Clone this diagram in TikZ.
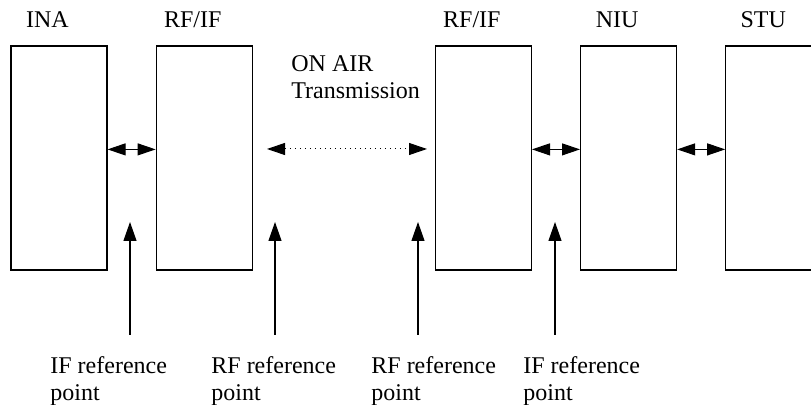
\documentclass[tikz,border=0pt]{standalone}
\usepackage{fontspec}
\setmainfont{Liberation Serif}
\usetikzlibrary{arrows.meta,positioning}

\tikzset{
  unit/.style={draw, line width=0.6pt, minimum width=48pt, minimum height=112pt, inner sep=0pt},
  unitlbl/.style={inner sep=0pt, font=\fontsize{12}{14}\selectfont},
  reflbl/.style={inner sep=0pt, align=left, font=\fontsize{12}{13.7}\selectfont},
  link/.style={line width=0.5pt, {Triangle[length=9pt,width=6pt]}-{Triangle[length=9pt,width=6pt]}},
  refarrow/.style={line width=0.6pt, -{Triangle[length=9.5pt,width=6.5pt]}}
}

\begin{document}
\begin{tikzpicture}[x=0.5pt, y=-0.5pt, node distance=24pt]
\useasboundingbox (0,0) rectangle (811,405);
\clip (0,0) rectangle (811,405);

% the five units, 1px = 0.5pt
\node[unit] (ina) at (59,158) {};
\node[unit, right=of ina] (rfa) {};
\node[unit, right=91pt of rfa] (rfb) {};
\node[unit, right=of rfb] (niu) {};
\node[unit, right=of niu] (stu) {}; % runs off the page

\node[unitlbl, above=8.7pt of ina, xshift=-5.75pt] (inaLbl) {INA};
\node[unitlbl, above=8.7pt of rfa, xshift=-5.75pt] (rfaLbl) {RF/IF};
\node[unitlbl, above=8.7pt of rfb, xshift=-5.75pt] (rfbLbl) {RF/IF};
\node[unitlbl, above=8.7pt of niu, xshift=-5.75pt] (niuLbl) {NIU};
\node[unitlbl, above=8.7pt of stu, xshift=-5.25pt] (stuLbl) {STU};

\node[reflbl, anchor=north west] (air) at (291,55) {ON AIR\\Transmission};

% links between units
\draw [link] ([yshift=4.3pt]ina.east) -- ([yshift=4.3pt]rfa.west);
\draw [link] ([yshift=4.3pt]rfb.east) -- ([yshift=4.3pt]niu.west);
\draw [link] ([yshift=4.3pt]niu.east) -- ([yshift=4.3pt]stu.west);

\coordinate (airL) at (267,149);
\coordinate (airR) at (427,149);
\draw [link, dotted] (airL) -- (airR);

% reference points
\coordinate (ifA) at (130,335);   \coordinate (ifAtip) at (130,222);
\coordinate (rfA) at (275,335);   \coordinate (rfAtip) at (275,222);
\coordinate (rfB) at (418,335);   \coordinate (rfBtip) at (418,222);
\coordinate (ifB) at (555,335);   \coordinate (ifBtip) at (555,222);

\draw [refarrow] (ifA) -- (ifAtip);
\draw [refarrow] (rfA) -- (rfAtip);
\draw [refarrow] (rfB) -- (rfBtip);
\draw [refarrow] (ifB) -- (ifBtip);

\node[reflbl, below right=10.5pt and -40pt of ifA] (ifALbl) {IF reference\\point};
\node[reflbl, below right=10.5pt and -32pt of rfA] (rfALbl) {RF reference\\point};
\node[reflbl, below right=10.5pt and -23.5pt of rfB] (rfBLbl) {RF reference\\point};
\node[reflbl, below right=10.5pt and -16pt of ifB] (ifBLbl) {IF reference\\point};
\end{tikzpicture}
\end{document}
